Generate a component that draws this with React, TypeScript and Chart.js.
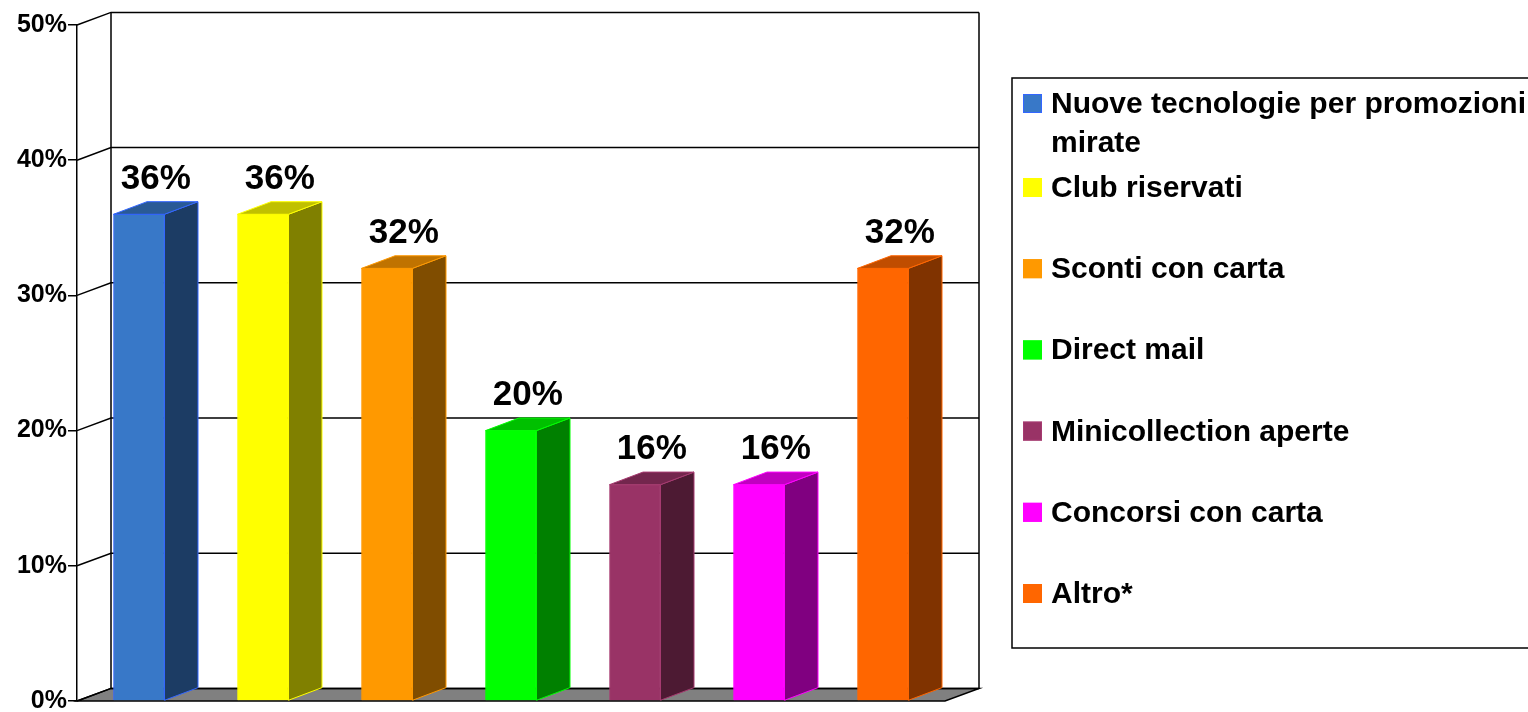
import React, { useEffect, useRef } from 'react';
import { Chart, registerables } from 'chart.js';

Chart.register(...registerables);

// ---- data ----
const categories = [
  'Nuove tecnologie per promozioni mirate',
  'Club riservati',
  'Sconti con carta',
  'Direct mail',
  'Minicollection aperte',
  'Concorsi con carta',
  'Altro*',
];
const values = [0.36, 0.36, 0.32, 0.2, 0.16, 0.16, 0.32];
const yTicks = [0, 0.1, 0.2, 0.3, 0.4, 0.5];

// ---- styles ----
const frontColors = ['#3878C8', '#FFFF00', '#FF9900', '#00FF00', '#993366', '#FF00FF', '#FF6600'];
const sideColors = ['#1C3C64', '#808000', '#804D00', '#008000', '#4D1A33', '#800080', '#803300'];
const topColors = ['#2A5A96', '#C0C000', '#C07300', '#00C000', '#73264D', '#C000C0', '#C04D00'];
const edgeColors = ['#3366FF', '#FFFF00', '#FF9900', '#00FF00', '#A63A70', '#FF00FF', '#FF6600'];

const FONT = '"Liberation Sans", Arial, Helvetica, sans-serif';
const WALL_DX = 34;
const WALL_DY = -12.6;
const BAR_DX = 33.5;
const BAR_DY = -12.6;

const fmtPct = (v: number) => `${Math.round(v * 100)}%`;

const wrapText = (ctx: CanvasRenderingContext2D, text: string, maxW: number) => {
  const words = text.split(' ');
  const lines: string[] = [];
  let cur = '';
  for (const w of words) {
    const test = cur ? cur + ' ' + w : w;
    if (ctx.measureText(test).width > maxW && cur) {
      lines.push(cur);
      cur = w;
    } else {
      cur = test;
    }
  }
  if (cur) lines.push(cur);
  return lines;
};

const threeDPlugin = {
  id: 'threeD',
  beforeDatasetsDraw(chart: any) {
    const { ctx, chartArea, scales } = chart;
    const y = scales.y;
    const L = chartArea.left;
    const R = chartArea.right;
    const y0 = y.getPixelForValue(0);
    const yMax = y.getPixelForValue(yTicks[yTicks.length - 1]);
    ctx.save();
    ctx.strokeStyle = '#000';
    ctx.lineWidth = 1.5;
    // floor
    ctx.beginPath();
    ctx.moveTo(L, y0);
    ctx.lineTo(R, y0);
    ctx.lineTo(R + WALL_DX, y0 + WALL_DY);
    ctx.lineTo(L + WALL_DX, y0 + WALL_DY);
    ctx.closePath();
    ctx.fillStyle = '#808080';
    ctx.fill();
    ctx.stroke();
    // back wall grid + side wall diagonals
    for (const t of yTicks) {
      const yf = y.getPixelForValue(t);
      const yb = yf + WALL_DY;
      ctx.beginPath();
      ctx.moveTo(L, yf);
      ctx.lineTo(L + WALL_DX, yb);
      ctx.lineTo(R + WALL_DX, yb);
      ctx.stroke();
    }
    // back wall verticals
    ctx.beginPath();
    ctx.moveTo(L + WALL_DX, yMax + WALL_DY);
    ctx.lineTo(L + WALL_DX, y0 + WALL_DY);
    ctx.moveTo(R + WALL_DX, yMax + WALL_DY);
    ctx.lineTo(R + WALL_DX, y0 + WALL_DY);
    ctx.stroke();
    ctx.restore();
  },
  afterDatasetsDraw(chart: any) {
    const { ctx } = chart;
    const meta = chart.getDatasetMeta(0);
    ctx.save();
    meta.data.forEach((bar: any, i: number) => {
      const { x, y: top, base, width } = bar.getProps(['x', 'y', 'base', 'width'], true);
      const l = x - width / 2;
      const r = x + width / 2;
      ctx.lineWidth = 1;
      ctx.strokeStyle = edgeColors[i];
      // side face
      ctx.beginPath();
      ctx.moveTo(r, top);
      ctx.lineTo(r + BAR_DX, top + BAR_DY);
      ctx.lineTo(r + BAR_DX, base + BAR_DY);
      ctx.lineTo(r, base);
      ctx.closePath();
      ctx.fillStyle = sideColors[i];
      ctx.fill();
      ctx.stroke();
      // top face
      ctx.beginPath();
      ctx.moveTo(l, top);
      ctx.lineTo(l + BAR_DX, top + BAR_DY);
      ctx.lineTo(r + BAR_DX, top + BAR_DY);
      ctx.lineTo(r, top);
      ctx.closePath();
      ctx.fillStyle = topColors[i];
      ctx.fill();
      ctx.stroke();
      // data label
      ctx.fillStyle = '#000';
      ctx.font = `bold 35px ${FONT}`;
      ctx.textAlign = 'center';
      ctx.textBaseline = 'alphabetic';
      ctx.fillText(fmtPct(values[i]), x + BAR_DX / 2, top + BAR_DY - 13);
    });
    ctx.restore();
  },
  afterDraw(chart: any) {
    const { ctx } = chart;
    ctx.save();
    // legend box
    ctx.strokeStyle = '#000';
    ctx.lineWidth = 1.5;
    ctx.strokeRect(1012, 78, 600, 570);
    ctx.font = `bold 30px ${FONT}`;
    ctx.textAlign = 'left';
    ctx.textBaseline = 'alphabetic';
    categories.forEach((label, i) => {
      const b = i === 0 ? 113 : 197 + (i - 1) * 81.2;
      ctx.fillStyle = frontColors[i];
      ctx.fillRect(1023, b - 19, 19, 19);
      ctx.strokeStyle = edgeColors[i];
      ctx.lineWidth = 1;
      ctx.strokeRect(1023.5, b - 18.5, 18, 18);
      ctx.fillStyle = '#000';
      const lines = wrapText(ctx, label, 480);
      lines.forEach((ln, j) => ctx.fillText(ln, 1051, b + j * 38.6));
    });
    ctx.restore();
  },
};

export default function App() {
  const canvasRef = useRef<HTMLCanvasElement | null>(null);

  useEffect(() => {
    const canvas = canvasRef.current;
    if (!canvas) return;
    const chart = new Chart(canvas, {
      type: 'bar',
      data: {
        labels: categories,
        datasets: [
          {
            data: values,
            backgroundColor: frontColors,
            borderColor: edgeColors,
            borderWidth: 1,
            barThickness: 51,
          },
        ],
      },
      options: {
        responsive: false,
        animation: false,
        layout: { padding: { left: 0, top: 25, right: 583, bottom: 11 } },
        plugins: {
          legend: { display: false },
          tooltip: { enabled: false },
        },
        scales: {
          x: { display: false },
          y: {
            min: 0,
            max: 0.5,
            afterFit: (scale: any) => {
              scale.width = 77;
              scale.paddingTop = 0;
              scale.paddingBottom = 0;
            },
            afterBuildTicks: (scale: any) => {
              scale.ticks = yTicks.map((v) => ({ value: v }));
            },
            ticks: {
              callback: (v: any) => fmtPct(Number(v)),
              color: '#000',
              padding: 1,
              font: { family: FONT, size: 25, weight: 'bold' },
            },
            grid: {
              display: true,
              drawOnChartArea: false,
              drawTicks: true,
              tickLength: 9,
              color: '#000',
              lineWidth: 1.5,
            },
            border: { display: true, color: '#000', width: 1.5 },
          },
        },
      } as any,
      plugins: [threeDPlugin],
    });
    return () => chart.destroy();
  }, []);

  return (
    <div style={{ position: 'fixed', left: 0, top: 0, width: 1528, height: 712, background: '#fff' }}>
      <canvas ref={canvasRef} width={1528} height={712} style={{ display: 'block' }} />
    </div>
  );
}
